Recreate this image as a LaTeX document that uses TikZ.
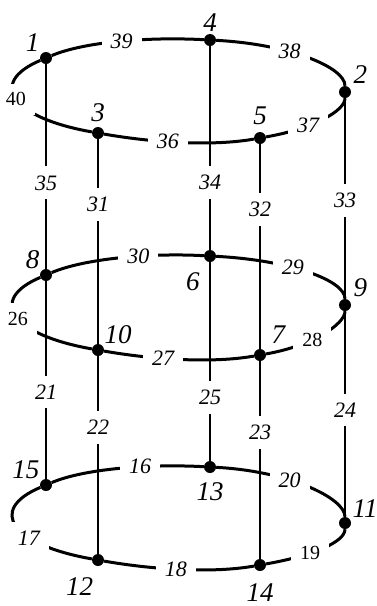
\documentclass[tikz,border=0pt]{standalone}
\usepackage{fontspec}
\setmainfont{Liberation Serif}
\usepackage{tikz}

\begin{document}
\begin{tikzpicture}[
    x=1pt, y=1pt,
    dot/.style={circle, fill=black, inner sep=0pt, minimum size=12pt},
    num/.style={inner sep=2pt, font=\fontsize{27}{30}\selectfont\itshape},
    lbl/.style={fill=white, inner sep=9pt, font=\fontsize{22}{24}\selectfont\itshape},
    lblup/.style={lbl, font=\fontsize{20}{22}\selectfont\upshape},
    ring/.style={line width=3pt},
    post/.style={line width=1.2pt},
]
    \clip (0,0) rectangle (377,-606);

    % top ring
    \node[dot, label={[num]above left:1}] (n1) at (46,-58) {};
    \node[dot, label={[num]above:4}] (n4) at (210,-40) {};
    \node[dot, label={[num, label distance=3pt]above right:2}] (n2) at (345,-92) {};
    \node[dot, label={[num, label distance=3pt]above:3}] (n3) at (98,-133) {};
    \node[dot, label={[num, label distance=5pt]above:5}] (n5) at (260,-138) {};
    % middle ring
    \node[dot, label={[num]above left:8}] (n8) at (46,-275) {};
    \node[dot, label={[num, label distance=10pt]-120:6}] (n6) at (210,-256) {};
    \node[dot, label={[num, label distance=3pt]above right:9}] (n9) at (345,-305) {};
    \node[dot, label={[num]above right:10}] (n10) at (98,-350) {};
    \node[dot, label={[num, label distance=7pt]above right:7}] (n7) at (260,-355) {};
    % bottom ring
    \node[dot, label={[num]above left:15}] (n15) at (46,-485) {};
    \node[dot, label={[num, label distance=7pt]below:13}] (n13) at (210,-467) {};
    \node[dot, label={[num]30:11}] (n11) at (345,-523) {};
    \node[dot, label={[num, label distance=9pt]-100:12}] (n12) at (98,-560) {};
    \node[dot, label={[num, label distance=10pt]below:14}] (n14) at (260,-565) {};

    % posts between the rings
    \draw[post] (n1) -- node[lbl, pos=.58] {35} (n8);
    \draw[post] (n3) -- node[lbl, pos=.32] {31} (n10);
    \draw[post] (n4) -- node[lbl, pos=.67] {34} (n6);
    \draw[post] (n5) -- node[lbl, pos=.32] {32} (n7);
    \draw[post] (n2) -- node[lbl, pos=.51] {33} (n9);
    \draw[post] (n8) -- node[lbl, pos=.56] {21} (n15);
    \draw[post] (n10) -- node[lbl, pos=.36] {22} (n12);
    \draw[post] (n6) -- node[lbl, pos=.68] {25} (n13);
    \draw[post] (n7) -- node[lbl, pos=.36] {23} (n14);
    \draw[post] (n9) -- node[lbl, pos=.48] {24} (n11);

    % top ring arcs
    \draw[ring] (n1) .. controls +(23:41pt) and +(177:63pt) .. node[lbl, pos=.52] {39} (n4);
    \draw[ring] (n4) .. controls +(-3:79pt) and +(90:25pt) .. node[lbl, pos=.38] {38} (n2);
    \draw[ring] (n2) .. controls +(-90:19pt) and +(10:54pt) .. node[lbl, pos=.66] {37} (n5);
    \draw[ring] (n5) .. controls +(190:51pt) and +(-10:51pt) .. node[lbl, pos=.57] {36} (n3);
    \draw[ring] (n3) .. controls +(170:88pt) and +(203:64pt) .. node[lblup, pos=.5] {40} (n1);

    % middle ring arcs
    \draw[ring] (n8) .. controls +(23:41pt) and +(177:63pt) .. node[lbl, pos=.62] {30} (n6);
    \draw[ring] (n6) .. controls +(-3:79pt) and +(90:25pt) .. node[lbl, pos=.4] {29} (n9);
    \draw[ring] (n9) .. controls +(-90:19pt) and +(10:54pt) .. node[lblup, pos=.62] {28} (n7);
    \draw[ring] (n7) .. controls +(190:51pt) and +(-10:51pt) .. node[lbl, pos=.6] {27} (n10);
    \draw[ring] (n10) .. controls +(170:88pt) and +(203:64pt) .. node[lblup, pos=.47] {26} (n8);

    % bottom ring arcs
    \draw[ring] (n15) .. controls +(23:41pt) and +(177:63pt) .. node[lbl, pos=.63] {16} (n13);
    \draw[ring] (n13) .. controls +(-3:79pt) and +(90:25pt) .. node[lbl, pos=.38] {20} (n11);
    \draw[ring] (n11) .. controls +(-90:19pt) and +(10:54pt) .. node[lblup, pos=.64] {19} (n14);
    \draw[ring] (n14) .. controls +(190:51pt) and +(-10:51pt) .. node[lbl, pos=.52] {18} (n12);
    \draw[ring] (n12) .. controls +(170:88pt) and +(203:64pt) .. node[lbl, pos=.35] {17} (n15);
\end{tikzpicture}
\end{document}
